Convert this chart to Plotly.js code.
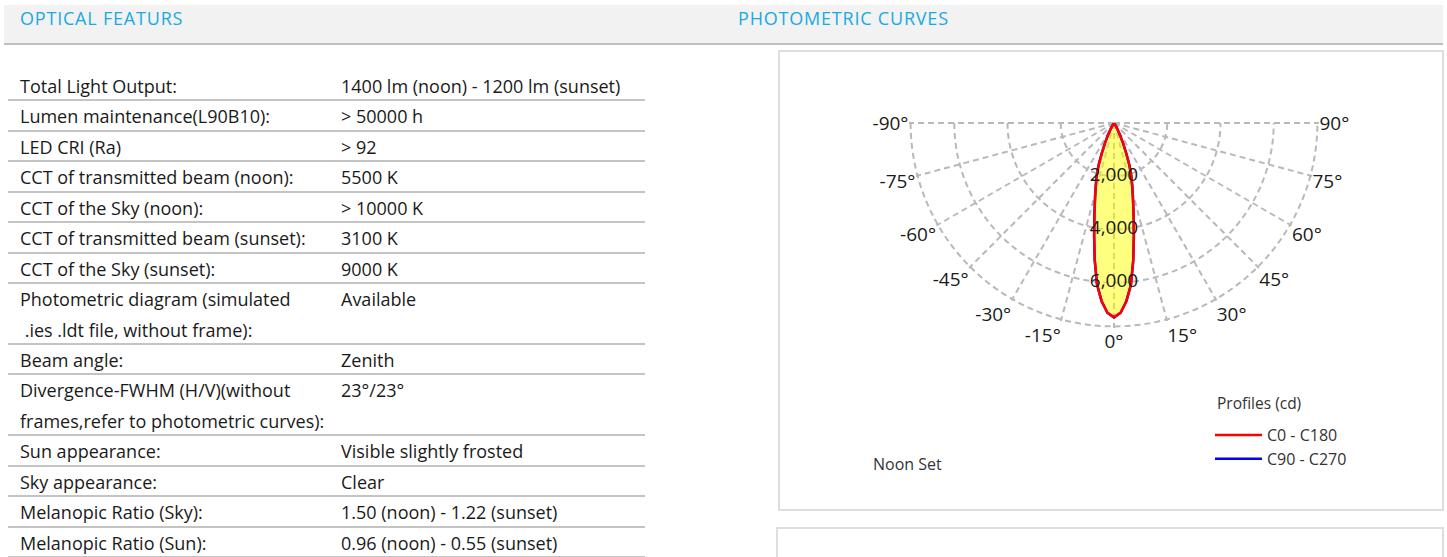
<!DOCTYPE html>
<html>
<head>
<meta charset="utf-8">
<script src="https://cdn.plot.ly/plotly-3.0.1.min.js"></script>
<style>
html,body{margin:0;padding:0;width:1447px;height:557px;overflow:hidden;background:#fff;font-family:"Open Sans",Lato,sans-serif;color:#1a1a1a;}
.hdr{position:absolute;left:4px;top:5px;width:1439px;height:38px;background:#f2f2f2;border-bottom:2px solid #bfbfbf;}
.hdr span{position:absolute;top:0;line-height:26px;font-size:18px;letter-spacing:0.8px;color:#19a9e3;}
#tbl{position:absolute;left:8px;top:71px;width:637px;}
.row{position:relative;box-sizing:border-box;border-bottom:2px solid #c4c4c4;font-size:18px;line-height:30.45px;}
.row .k{position:absolute;left:12px;top:0;white-space:pre;}
.row .v{position:absolute;left:333px;top:0;white-space:pre;}
.box{position:absolute;box-sizing:border-box;border:2px solid #dedede;background:#fff;}
#plot{position:absolute;left:780px;top:52px;width:662px;height:457px;}
</style>
</head>
<body>
<div class="hdr"><span style="left:16px">OPTICAL FEATURS</span><span style="left:734px">PHOTOMETRIC CURVES</span></div>
<div id="tbl"></div>
<div class="box" style="left:778px;top:50px;width:666px;height:461px;"></div>
<div class="box" style="left:776px;top:527px;width:668px;height:60px;"></div>
<div id="plot"></div>
<script>
// ---- table data ----
const featureLabels = [
  "Total Light Output:",
  "Lumen maintenance(L90B10):",
  "LED CRI (Ra)",
  "CCT of transmitted beam (noon):",
  "CCT of the Sky (noon):",
  "CCT of transmitted beam (sunset):",
  "CCT of the Sky (sunset):",
  "Photometric diagram (simulated\n .ies .ldt file, without frame):",
  "Beam angle:",
  "Divergence-FWHM (H/V)(without\nframes,refer to photometric curves):",
  "Sun appearance:",
  "Sky appearance:",
  "Melanopic Ratio (Sky):",
  "Melanopic Ratio (Sun):"
];
const featureValues = [
  "1400 lm (noon) - 1200 lm (sunset)",
  "> 50000 h",
  "> 92",
  "5500 K",
  "> 10000 K",
  "3100 K",
  "9000 K",
  "Available",
  "Zenith",
  "23°/23°",
  "Visible slightly frosted",
  "Clear",
  "1.50 (noon) - 1.22 (sunset)",
  "0.96 (noon) - 0.55 (sunset)"
];

// ---- photometric data (cd) ----
const angleDeg = [-90,-80,-70,-60,-50,-45,-40,-35,-30,-28,-26,-24,-22,-20,-18,-16,-14,-12,-10,-8,-6,-4,-2,0,2,4,6,8,10,12,14,16,18,20,22,24,26,28,30,35,40,45,50,60,70,80,90];
const intensityC0C180 = [0,0,0,0,0,5,15,55,180,320,540,850,1220,1700,2120,2500,2950,3550,4300,5200,6100,6700,7130,7300,7130,6700,6100,5200,4300,3550,2950,2500,2120,1700,1220,850,540,320,180,55,15,5,0,0,0,0,0];
const intensityC90C270 = [0,0,0,0,0,5,15,55,180,320,540,850,1220,1700,2120,2500,2950,3550,4300,5200,6100,6700,7130,7300,7130,6700,6100,5200,4300,3550,2950,2500,2120,1700,1220,850,540,320,180,55,15,5,0,0,0,0,0];
const radialTicks = [2000,4000,6000];
const radialMax = 7700;
const angleTicks = [-90,-75,-60,-45,-30,-15,0,15,30,45,60,75,90];
const profileNames = ["C0 - C180","C90 - C270"];
const legendTitle = "Profiles (cd)";
const setLabel = "Noon Set";

// build table
const tbl = document.getElementById('tbl');
featureLabels.forEach((lab, i) => {
  const lines = lab.split('\n').length;
  const row = document.createElement('div');
  row.className = 'row';
  row.style.height = (lines * 30.45) + 'px';
  const k = document.createElement('div'); k.className = 'k'; k.textContent = lab;
  const v = document.createElement('div'); v.className = 'v'; v.textContent = featureValues[i];
  row.appendChild(k); row.appendChild(v);
  tbl.appendChild(row);
});

const gridStyle = {gridcolor:'#b9b9b9', gridwidth:2, griddash:'6px,4px'};
const FONT = '"Open Sans", Lato, sans-serif';

const traces = [
  {type:'scatterpolar', r:intensityC0C180, theta:angleDeg, mode:'lines', fill:'toself',
   fillcolor:'rgba(255,255,0,0.5)', line:{width:0, color:'rgba(0,0,0,0)'}, showlegend:false, hoverinfo:'skip'},
  {type:'scatterpolar', r:intensityC90C270, theta:angleDeg, mode:'lines', name:profileNames[1],
   line:{color:'#0000ff', width:2.5}, legendrank:2},
  {type:'scatterpolar', r:intensityC0C180, theta:angleDeg, mode:'lines', name:profileNames[0],
   line:{color:'#ff0000', width:2.5}, legendrank:1},
  {type:'scatterpolar', r:radialTicks, theta:radialTicks.map(() => 0), mode:'text',
   text:radialTicks.map(v => v.toLocaleString('en-US')), textposition:'middle center',
   textfont:{size:19, color:'#1a1a1a'}, showlegend:false, hoverinfo:'skip'}
];

const layout = {
  width:662, height:457,
  margin:{l:0, r:0, t:0, b:0},
  paper_bgcolor:'rgba(0,0,0,0)',
  font:{family:FONT, color:'#1a1a1a'},
  showlegend:true,
  hovermode:false,
  polar:{
    domain:{x:[0.19486,0.81420], y:[0.39606,0.84464]},
    sector:[180,360],
    bgcolor:'rgba(0,0,0,0)',
    radialaxis:Object.assign({range:[0,radialMax], tickmode:'array', tickvals:radialTicks.concat([radialMax-60]),
      showticklabels:false, ticks:'', showline:false, angle:270}, gridStyle),
    angularaxis:Object.assign({rotation:270, direction:'counterclockwise', tickmode:'array',
      tickvals:angleTicks.map(a => a + 360), ticktext:angleTicks.map(a => a + '°'), showline:false, ticks:'',
      showticklabels:true, showgrid:true,
      tickfont:{size:19, color:'#1a1a1a'}}, gridStyle)
  },
  legend:{x:0.6495, y:0.1991, xanchor:'left', yanchor:'top', bgcolor:'rgba(0,0,0,0)',
    traceorder:'normal', font:{size:16, color:'#333'}, itemwidth:47},
  annotations:[
    {text:legendTitle, xref:'paper', yref:'paper', x:0.6571, y:0.2319, xanchor:'left', yanchor:'middle',
     showarrow:false, font:{size:15.5, color:'#333'}},
    {text:setLabel, xref:'paper', yref:'paper', x:0.1375, y:0.0985, xanchor:'left', yanchor:'middle',
     showarrow:false, font:{size:16, color:'#333'}}
  ]
};

Plotly.newPlot('plot', traces, layout, {displayModeBar:false, staticPlot:true});
</script>
</body>
</html>
